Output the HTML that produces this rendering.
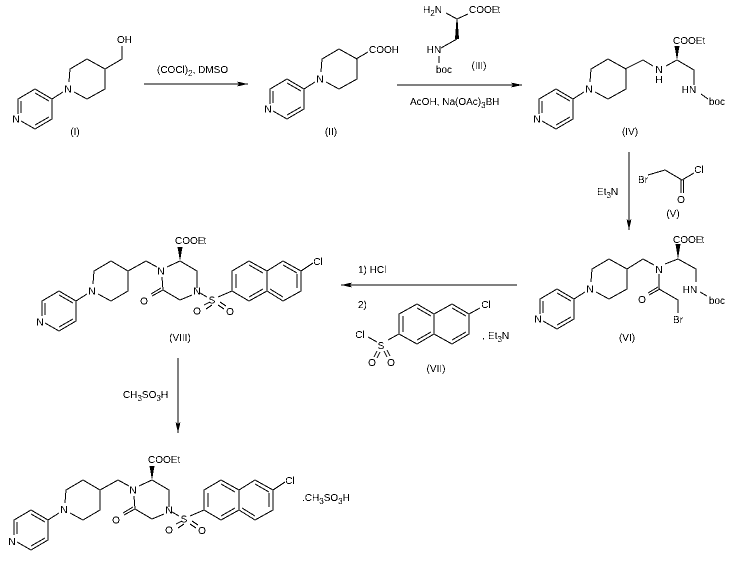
<!DOCTYPE html>
<html><head><meta charset="utf-8"><style>
html,body{margin:0;padding:0;background:#fff}
svg{display:block}
text{font-family:"Liberation Sans",Arial,sans-serif;font-size:10px;fill:#000}
.l{fill:none;stroke:#000;stroke-width:1;shape-rendering:crispEdges}
.a{text-anchor:middle}
</style></head><body>
<svg width="732" height="565" viewBox="0 0 732 565" xmlns="http://www.w3.org/2000/svg">
<defs><filter id="t" x="0" y="0" width="732" height="565" filterUnits="userSpaceOnUse" color-interpolation-filters="sRGB"><feComponentTransfer><feFuncA type="discrete" tableValues="0 0 1 1"/></feComponentTransfer></filter></defs>
<rect width="732" height="565" fill="#fff"/>
<g filter="url(#t)">

<!-- I -->
<g transform="translate(68,89)">
<path class="l" d="M-16,10V30L-33,40L-47,32M-50,25V10L-33,0L-16,10M-47,24V12M-33,4L-19,12M-33,36L-19,28M-16,10L-5,3M1,-7L2,-20L19,-30L37,-20V0L19,10L6,3"/>
<text class="a" x="-52" y="33.5">N</text><text class="a" x="0" y="3.5">N</text>
</g>
<path class="l" d="M105,69L122,59V46"/>
<text x="117" y="43">OH</text>
<text class="a" x="75" y="135">(I)</text>

<!-- arrow I-II -->
<path class="l" d="M144,84H248"/><polygon points="248,84 237,81.5 239,84 237,86.5"/>
<text x="157" y="73">(COCl)<tspan dy="3" font-size="8">2</tspan><tspan dy="-3">, DMSO</tspan></text>

<!-- II -->
<g transform="translate(320,79)">
<path class="l" d="M-16,10V30L-33,40L-47,32M-50,25V10L-33,0L-16,10M-47,24V12M-33,4L-19,12M-33,36L-19,28M-16,10L-5,3M1,-7L2,-20L19,-30L37,-20V0L19,10L6,3"/>
<text class="a" x="-52" y="33.5">N</text><text class="a" x="0" y="3.5">N</text>
</g>
<path class="l" d="M356,59L368,52"/>
<text x="369" y="53">COOH</text>
<text class="a" x="331" y="135">(II)</text>

<!-- III -->
<text x="423" y="13">H<tspan dy="3" font-size="8">2</tspan><tspan dy="-3">N</tspan></text>
<path class="l" d="M446,13L457,19L468,14M457,39L441,48M439,56V63"/>
<polygon points="456.5,19 457.5,19 459,39 455,39"/>
<text x="469" y="13">COOE<tspan dx="-1">t</tspan></text>
<text class="a" x="434" y="53">HN</text>
<text class="a" x="444" y="73">boc</text>
<text class="a" x="479" y="69">(III)</text>

<!-- arrow II-IV -->
<path class="l" d="M397,85H522"/><polygon points="522,85 511,82.5 513,85 511,87.5"/>
<text x="410" y="105">AcOH, Na(OAc)<tspan dy="3" font-size="8">3</tspan><tspan dy="-3">BH</tspan></text>

<!-- IV -->
<g transform="translate(589,89)">
<path class="l" d="M-16,10V30L-33,40L-47,32M-50,25V10L-33,0L-16,10M-47,24V12M-33,4L-19,12M-33,36L-19,28M-16,10L-5,3M1,-7L2,-20L19,-30L37,-20V0L19,10L6,3"/>
<text class="a" x="-52" y="33.5">N</text><text class="a" x="0" y="3.5">N</text>
</g>
<path class="l" d="M625,69L643,60L653,66M666,66L677,60L694,70V85M701,94L708,99"/>
<polygon points="677,60 674.5,46 679.5,46"/>
<text class="a" x="659" y="73">N</text><text class="a" x="659" y="83">H</text>
<text x="673" y="44">COOEt</text>
<text class="a" x="689" y="93">HN</text>
<text class="a" x="717" y="105">boc</text>
<text class="a" x="630" y="135">(IV)</text>

<!-- arrow IV-VI -->
<path class="l" d="M629,152V230"/><polygon points="629,230 626.5,219 629,221 631.5,219"/>
<text x="597" y="195">Et<tspan dy="3" font-size="8">3</tspan><tspan dy="-3">N</tspan></text>

<!-- V -->
<text class="a" x="643" y="183">Br</text>
<path class="l" d="M648,175L665,170L682,180L694,173M681,180V193M683.5,180V193"/>
<text class="a" x="699" y="173">Cl</text>
<text class="a" x="681" y="203">O</text>
<text class="a" x="673" y="217">(V)</text>

<!-- VI -->
<g transform="translate(590,289)">
<path class="l" d="M-16,10V30L-33,40L-47,32M-50,25V10L-33,0L-16,10M-47,24V12M-33,4L-19,12M-33,36L-19,28M-16,10L-5,3M1,-7L2,-20L19,-30L37,-20V0L19,10L6,3"/>
<text class="a" x="-52" y="33.5">N</text><text class="a" x="0" y="3.5">N</text>
</g>
<path class="l" d="M627,269L643,259L654,265M665,264L678,259L696,269V282M700,292L707,296M659,274V289L678,300V313M660,289L649,295M658,287L648,293"/>
<polygon points="678,259 675.5,244 680.5,244"/>
<text class="a" x="659" y="273">N</text>
<text x="673" y="243">COOE<tspan dx="-1">t</tspan></text>
<text class="a" x="690" y="293">HN</text>
<text class="a" x="717" y="304">boc</text>
<text class="a" x="642" y="303">O</text>
<text class="a" x="678" y="323">Br</text>
<text class="a" x="627" y="341">(VI)</text>

<!-- arrow VI-VIII -->
<path class="l" d="M341,285H517"/><polygon points="341,285 352,282.5 350,285 352,287.5"/>
<text x="358" y="273">1) HCl</text>
<text x="358" y="308">2)</text>

<!-- VII -->
<path class="l" d="M399,314L417,304L434,314V334L417,344L399,334ZM434,314L452,304L469,314V334L452,344L434,334M403,316V332M417,308L431,316M417,340L431,332M452,308L466,316M466,332L452,340M469,314L480,308M399,334L388,340M368,337L377,342M377,351L374,357M380,352L377,358M384,351L387,357M387,350L390,356"/>
<text class="a" x="486" y="308">Cl</text>
<text class="a" x="360" y="338">Cl</text>
<text class="a" x="381" y="349">S</text>
<text class="a" x="372" y="366">O</text>
<text class="a" x="391" y="366">O</text>
<text x="482" y="339">,</text>
<text x="488" y="339">Et<tspan dy="3" font-size="8">3</tspan><tspan dy="-3">N</tspan></text>
<text class="a" x="436" y="372">(VII)</text>

<!-- VIII -->
<g transform="translate(92,291)">
<path class="l" d="M-16,10V30L-33,40L-47,32M-50,25V10L-33,0L-16,10M-47,24V12M-33,4L-19,12M-33,36L-19,28M-16,10L-5,3M1,-7L2,-20L19,-30L36,-20V0L19,10L6,3"/>
<text class="a" x="-52" y="34.5">N</text><text class="a" x="0" y="3.5">N</text>
<path class="l" d="M36,-20L54,-30L65,-24M75,-24L88,-30L105,-20V-3M100,4L88,9L71,-1L70,-14M71,-1L60,5M69,-3L59,3M108,2L115,6M126,6L140,0M140,0V-20L157,-30L175,-20V0L157,10L140,0M175,-20L191,-30L209,-20V0L191,10L175,0M157,-26L171,-18M144,-3V-17M157,6L171,-2M191,-26L205,-18M205,-3V-17M191,6L178,-2M209,-20L221,-28M112,14L118,11M114,18L120,14M128,11L134,15M126,14L132,18"/>
<polygon points="88,-30 85.5,-44 90.5,-44"/>
<text class="a" x="69" y="-16.5">N</text>
<text class="a" x="105" y="3.5">N</text>
<text x="83" y="-47">COOE<tspan dx="-1">t</tspan></text>
<text class="a" x="52" y="13.5">O</text>
<text class="a" x="120" y="12.5">S</text>
<text class="a" x="105" y="23.5">O</text>
<text class="a" x="138" y="24">O</text>
<text class="a" x="226" y="-26">Cl</text>
</g>
<text class="a" x="180" y="341">(VIII)</text>

<!-- arrow VIII-final -->
<path class="l" d="M178,358V433"/><polygon points="178,433 175.5,422 178,424 180.5,422"/>
<text x="123" y="398">CH<tspan dy="3" font-size="8">3</tspan><tspan dy="-3">SO</tspan><tspan dy="3" font-size="8">3</tspan><tspan dy="-3">H</tspan></text>

<!-- Final -->
<g transform="translate(64,510)">
<path class="l" d="M-16,10V30L-33,40L-47,32M-50,25V10L-33,0L-16,10M-47,24V12M-33,4L-19,12M-33,36L-19,28M-16,10L-5,3M1,-7L2,-20L19,-30L36,-20V0L19,10L6,3"/>
<text class="a" x="-52" y="35">N</text><text class="a" x="0" y="3">N</text>
<path class="l" d="M36,-20L54,-30L65,-24M75,-24L88,-30L105,-20V-3M100,4L88,9L71,-1L70,-14M71,-1L60,5M69,-3L59,3M108,2L115,6M126,6L140,0M140,0V-20L157,-30L175,-20V0L157,10L140,0M175,-20L191,-30L209,-20V0L191,10L175,0M157,-26L171,-18M144,-3V-17M157,6L171,-2M191,-26L205,-18M205,-3V-17M191,6L178,-2M209,-20L221,-28M112,14L118,11M114,18L120,14M128,11L134,15M126,14L132,18"/>
<polygon points="88,-30 85.5,-44 90.5,-44"/>
<text class="a" x="69" y="-16.5">N</text>
<text class="a" x="105" y="3.5">N</text>
<text x="84" y="-47">COOEt</text>
<text class="a" x="52" y="13.5">O</text>
<text class="a" x="120" y="12.5">S</text>
<text class="a" x="105" y="23.5">O</text>
<text class="a" x="138" y="24">O</text>
<text class="a" x="226" y="-26">Cl</text>
</g>
<text x="302" y="501">.CH<tspan dy="3" font-size="8">3</tspan><tspan dy="-3">SO</tspan><tspan dy="3" font-size="8">3</tspan><tspan dy="-3">H</tspan></text>
</g>
</svg>
</body></html>
